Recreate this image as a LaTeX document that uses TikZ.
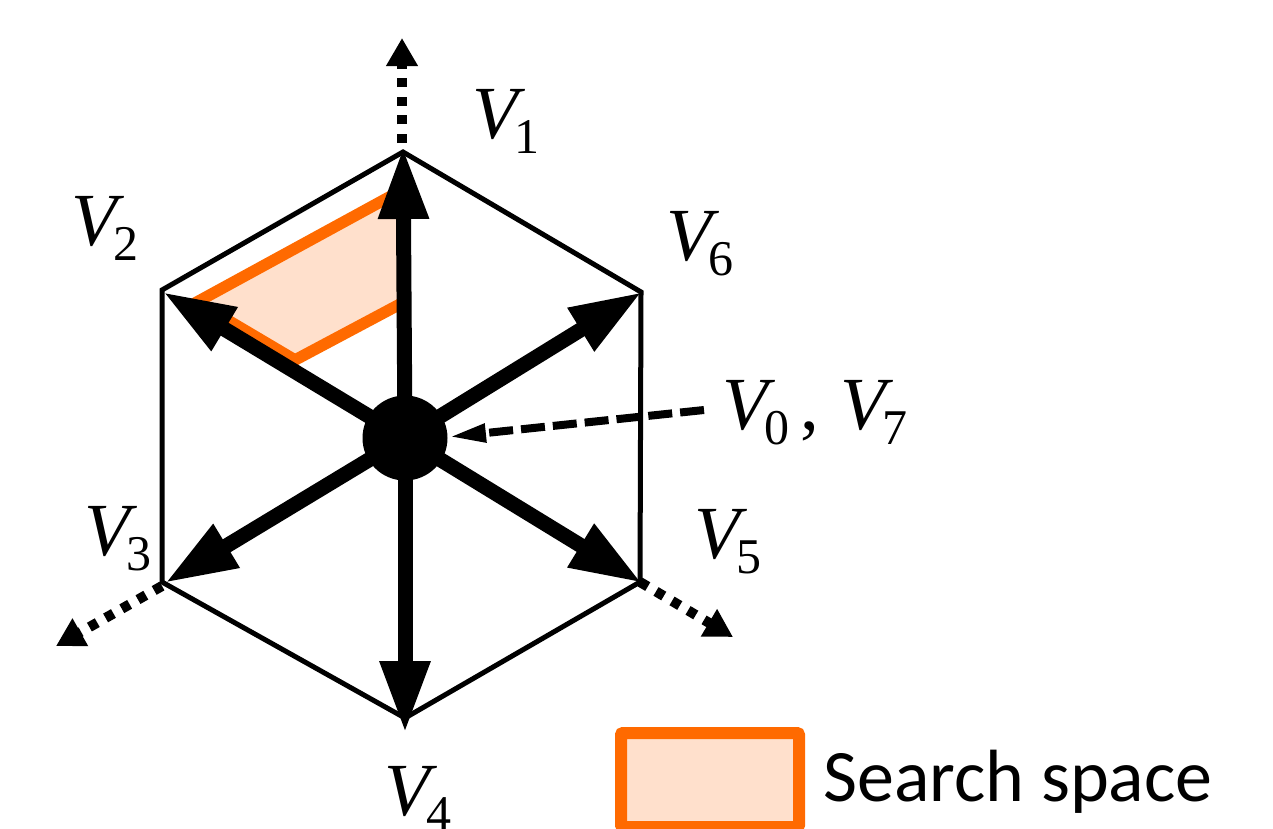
\documentclass[tikz,border=0pt]{standalone}
\usepackage{fontspec}
\setmainfont{Carlito}
\newfontfamily\vfam{Liberation Serif}
\usetikzlibrary{arrows.meta}
\definecolor{ss}{HTML}{FF6A00}
\definecolor{ssfill}{HTML}{FFE0CC}
\newcommand{\vlab}[1]{{\vfam\fontsize{75}{75}\selectfont\itshape V\kern-4pt\raisebox{-15pt}{\fontsize{50}{50}\selectfont\upshape #1}}}
\tikzset{
  x=1pt,y=-1pt,
  hexline/.style={line width=5pt,line join=miter},
  bigarrow/.style={line width=15pt,-{Triangle[length=72pt,width=47pt]}},
  dotarrow/.style={line width=10pt,dash pattern=on 9pt off 9.6pt,-{Triangle[length=28pt,width=30pt]}},
  dasharrow/.style={line width=8pt,dash pattern=on 24pt off 8pt,-{Triangle[length=38pt,width=17pt]}},
  vlabel/.style={inner sep=0pt,anchor=base west},
  searchpoly/.style={draw=ss,fill=ssfill,line width=11.5pt,line join=miter},
  legendbox/.style={draw=ss,fill=ssfill,line width=12pt,rounded corners=2pt,minimum width=178pt,minimum height=94pt,inner sep=0pt,anchor=north west}
}
\begin{document}
\begin{tikzpicture}
\useasboundingbox (0,0) rectangle (1273,828);
\coordinate (a1) at (403,152);
\coordinate (a2) at (162,290);
\coordinate (a3) at (162,582);
\coordinate (a4) at (405,718);
\coordinate (a5) at (640,582);
\coordinate (a6) at (641,292);
\coordinate (e1) at (403,147);
\coordinate (e2) at (163,292);
\coordinate (e3) at (165,583);
\coordinate (e4) at (405,733);
\coordinate (e5) at (642,583);
\coordinate (e6) at (642,292);
\coordinate (t1) at (402,38);
\coordinate (t3) at (56,646);
\coordinate (t5) at (733,637);
\coordinate (s1) at (402,143);
\coordinate (s3) at (162,586);
\coordinate (s5) at (640,582);
\coordinate (d0) at (704,410);
\coordinate (d1) at (448,437);
\coordinate (p1) at (197,302);
\coordinate (p2) at (404,189);
\coordinate (p3) at (404,302);
\coordinate (p4) at (295,360);
\draw[searchpoly] (p1) -- (p2) -- (p3) -- (p4) -- cycle;
\draw[hexline] (a1) -- (a2) -- (a3) -- (a4) -- (a5) -- (a6) -- cycle;
\node[circle,fill=black,minimum size=85pt,inner sep=0pt] (c) at (405,438) {};
\draw[bigarrow] (c.center) -- (e1);
\draw[bigarrow] (c.center) -- (e2);
\draw[bigarrow] (c.center) -- (e3);
\draw[bigarrow] (c.center) -- (e4);
\draw[bigarrow] (c.center) -- (e5);
\draw[bigarrow] (c.center) -- (e6);
\draw[dotarrow] (s1) -- (t1);
\draw[dotarrow] (s3) -- (t3);
\draw[dotarrow] (s5) -- (t5);
\draw[dasharrow] (d0) -- (d1);
\node[vlabel] (l1) at (472,138) {\vlab{1}};
\node[vlabel] (l2) at (71,245) {\vlab{2}};
\node[vlabel] (l3) at (84,555) {\vlab{3}};
\node[vlabel] (l4) at (384,815) {\vlab{4}};
\node[vlabel] (l5) at (694,558) {\vlab{5}};
\node[vlabel] (l6) at (666,260) {\vlab{6}};
\node[vlabel] (l0) at (722,429) {\vlab{0}{\vfam\fontsize{75}{75}\selectfont\kern11pt,\kern22pt}\vlab{7}};
\node[legendbox] (lg) at (615,727) {};
\node[anchor=west,inner sep=0pt,font=\fontsize{74}{74}\selectfont] (lt) at (823,782) {Search space};
\end{tikzpicture}
\end{document}
